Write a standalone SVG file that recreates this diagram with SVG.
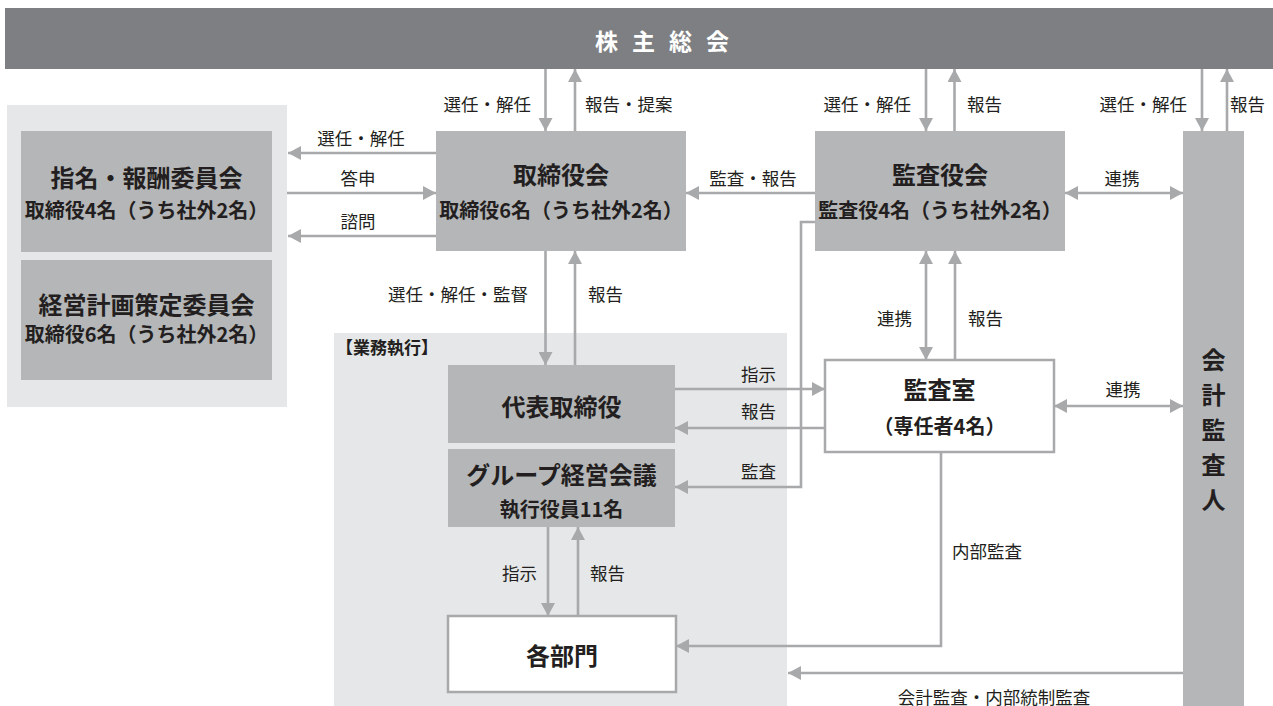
<svg xmlns="http://www.w3.org/2000/svg" width="1273" height="706" viewBox="0 0 1273 706">
<style>
text{font-family:"Noto Sans CJK JP","Noto Sans CJK SC",sans-serif;fill:#231f20;dominant-baseline:central}
.ttl{font-size:24px;font-weight:bold;text-anchor:middle}
.sub{font-size:20px;font-weight:bold;text-anchor:middle}
.lbl{font-size:17.5px}
.mid{text-anchor:middle}
.end{text-anchor:end}
.gbox{fill:#b5b6b8}
.wbox{fill:#ffffff;stroke:#a8a9ab;stroke-width:2.5}
.area{fill:#e6e7e8}
.c{fill:none;stroke:#a8a9ab;stroke-width:2.6}
.a{marker-end:url(#ah)}
.b{marker-start:url(#ah);marker-end:url(#ah)}
</style>
<defs>
<marker id="ah" markerUnits="userSpaceOnUse" markerWidth="14" markerHeight="14" refX="13" refY="7" orient="auto-start-reverse">
<path d="M0,0 L13,7 L0,14 z" fill="#a8a9ab"/>
</marker>
</defs>

<rect class="area" x="7" y="105" width="280" height="302"/>
<rect class="area" x="334" y="333" width="453" height="373"/>

<g id="shareholders">
<rect x="5" y="8" width="1268" height="61" fill="#7e7f83"/>
<text x="669" y="40" style="font-size:23px;font-weight:bold;fill:#ffffff;letter-spacing:14px" text-anchor="middle">株主総会</text>
</g>

<g id="nomination">
<rect class="gbox" x="21" y="131" width="251" height="121"/>
<text class="ttl" x="146.5" y="176">指名・報酬委員会</text>
<text class="sub" x="146.5" y="209">取締役4名（うち社外2名）</text>
</g>

<g id="planning">
<rect class="gbox" x="21" y="260" width="251" height="120"/>
<text class="ttl" x="146.5" y="303">経営計画策定委員会</text>
<text class="sub" x="146.5" y="333">取締役6名（うち社外2名）</text>
</g>

<g id="board">
<rect class="gbox" x="436" y="131" width="250" height="120"/>
<text class="ttl" x="561" y="173">取締役会</text>
<text class="sub" x="561" y="209">取締役6名（うち社外2名）</text>
</g>

<g id="auditboard">
<rect class="gbox" x="815" y="131" width="250" height="120"/>
<text class="ttl" x="940" y="173">監査役会</text>
<text class="sub" x="940" y="209">監査役4名（うち社外2名）</text>
</g>

<g id="accountant">
<rect class="gbox" x="1183" y="131" width="61" height="575"/>
<text class="ttl" x="1213.5" y="358">会</text>
<text class="ttl" x="1213.5" y="393">計</text>
<text class="ttl" x="1213.5" y="428">監</text>
<text class="ttl" x="1213.5" y="463">査</text>
<text class="ttl" x="1213.5" y="498">人</text>
</g>

<g id="execution-label">
<text x="336" y="346" style="font-size:17px;font-weight:bold">【業務執行】</text>
</g>

<g id="ceo">
<rect class="gbox" x="448" y="365" width="227" height="78"/>
<text class="ttl" x="561.5" y="405">代表取締役</text>
</g>

<g id="groupmeeting">
<rect class="gbox" x="448" y="449" width="227" height="78"/>
<text class="ttl" x="561.5" y="473">グループ経営会議</text>
<text class="sub" x="561.5" y="508">執行役員11名</text>
</g>

<g id="auditoffice">
<rect class="wbox" x="825" y="360" width="229" height="92"/>
<text class="ttl" x="939.5" y="388">監査室</text>
<text class="sub" x="939.5" y="425">（専任者4名）</text>
</g>

<g id="departments">
<rect class="wbox" x="448" y="616" width="228" height="76"/>
<text class="ttl" x="562" y="654">各部門</text>
</g>

<g id="connectors">
<path class="c a" d="M545.5,69 V131"/>
<path class="c a" d="M575,131 V69"/>
<path class="c a" d="M926,69 V131"/>
<path class="c a" d="M954.5,131 V69"/>
<path class="c a" d="M1202,69 V131"/>
<path class="c a" d="M1227,131 V69"/>
<path class="c a" d="M436,153 H288"/>
<path class="c a" d="M287,193 H436"/>
<path class="c a" d="M436,236 H288"/>
<path class="c a" d="M815,193 H686"/>
<path class="c b" d="M1065,193 H1183"/>
<path class="c a" d="M545.5,251 V365"/>
<path class="c a" d="M575,365 V251"/>
<path class="c a" d="M675,389 H825"/>
<path class="c a" d="M825,428 H675"/>
<path class="c a" d="M815,222 H801 V487 H675"/>
<path class="c b" d="M926,251 V360"/>
<path class="c a" d="M955,360 V251"/>
<path class="c b" d="M1054,406 H1183"/>
<path class="c a" d="M941,452 V646 H676"/>
<path class="c a" d="M1183,673 H788"/>
<path class="c a" d="M548,527 V616"/>
<path class="c a" d="M578,616 V527"/>

<text class="lbl end" x="531" y="103">選任・解任</text>
<text class="lbl" x="585" y="103">報告・提案</text>
<text class="lbl end" x="911" y="103">選任・解任</text>
<text class="lbl" x="967" y="103">報告</text>
<text class="lbl end" x="1187" y="103">選任・解任</text>
<text class="lbl" x="1230" y="103">報告</text>
<text class="lbl mid" x="361" y="137">選任・解任</text>
<text class="lbl mid" x="358" y="177">答申</text>
<text class="lbl mid" x="358" y="220">諮問</text>
<text class="lbl mid" x="753" y="177">監査・報告</text>
<text class="lbl mid" x="1122" y="177">連携</text>
<text class="lbl end" x="528" y="293">選任・解任・監督</text>
<text class="lbl" x="588" y="293">報告</text>
<text class="lbl end" x="776" y="373">指示</text>
<text class="lbl end" x="776" y="410">報告</text>
<text class="lbl end" x="776" y="470">監査</text>
<text class="lbl end" x="912" y="317">連携</text>
<text class="lbl" x="968" y="317">報告</text>
<text class="lbl mid" x="1123" y="388">連携</text>
<text class="lbl" x="952" y="550">内部監査</text>
<text class="lbl mid" x="994" y="696">会計監査・内部統制監査</text>
<text class="lbl end" x="537" y="572">指示</text>
<text class="lbl" x="590" y="572">報告</text>
</g>
</svg>
